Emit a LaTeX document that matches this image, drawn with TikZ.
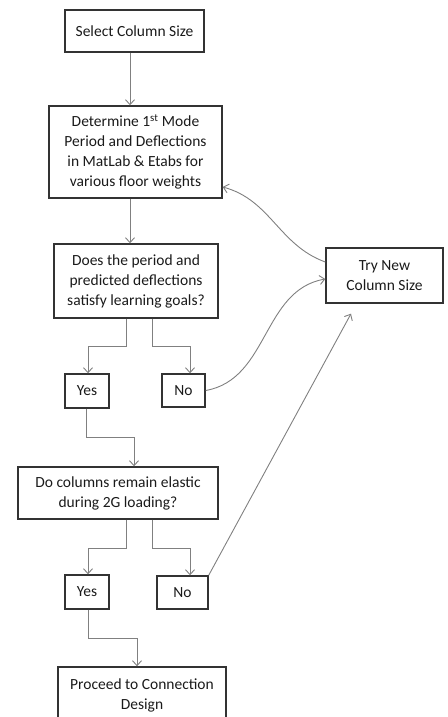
\documentclass[tikz,border=0pt]{standalone}
\usepackage{fontspec}
\setmainfont{Carlito}
\usetikzlibrary{arrows.meta,calc}
\definecolor{boxline}{HTML}{333333}
\definecolor{arrline}{HTML}{808080}
\definecolor{txt}{HTML}{1A1A1A}

\begin{document}
\begin{tikzpicture}[x=1pt,y=-1pt,
	font=\fontsize{15.5}{20}\selectfont,
	stepbox/.style={draw=boxline, line width=1.4pt, text=txt, align=center, inner sep=0pt},
	link/.style={draw=arrline, line width=0.9pt, -{Straight Barb[length=5pt,width=9pt]}}]
	\useasboundingbox (0,0) rectangle (447,717);
	\clip (0,0) rectangle (447,717);
	\node[stepbox, minimum width=139pt, minimum height=42pt] (sel) at (134.5,31) {Select Column Size};
	\node[stepbox, minimum width=173pt, minimum height=92pt] (det) at (135.5,152) {Determine 1\textsuperscript{st} Mode\\Period and Deflections\\in MatLab \& Etabs for\\various floor weights};
	\node[stepbox, minimum width=164pt, minimum height=74pt] (goal) at (136,281) {Does the period and\\predicted deflections\\satisfy learning goals?};
	\node[stepbox, minimum width=117pt, minimum height=55pt] (try) at (384.5,275.5) {Try New\\Column Size};
	\node[stepbox, minimum width=44pt, minimum height=34pt] (yesA) at (87,391) {Yes};
	\node[stepbox, minimum width=43pt, minimum height=33pt] (noA) at (183.5,390.5) {No};
	\node[stepbox, minimum width=200pt, minimum height=52pt] (elastic) at (118,493) {Do columns remain elastic\\during 2G loading?};
	\node[stepbox, minimum width=44pt, minimum height=34pt] (yesB) at (87,592) {Yes};
	\node[stepbox, minimum width=51pt, minimum height=33pt] (noB) at (182.5,592.5) {No};
	\node[stepbox, minimum width=168pt, minimum height=56pt] (conn) at (142,695) {Proceed to Connection\\Design};

	% main column
	\draw[link] ([xshift=-4.5pt]sel.south) -- ([xshift=-4.5pt]sel.south |- det.north);
	\draw[link] ([xshift=-5.5pt]det.south) -- ([xshift=-5.5pt]det.south |- goal.north);
	\draw[link] ([xshift=-10pt]goal.south) -- ++(0,28) -| ([xshift=1pt]yesA.north);
	\draw[link] ([xshift=16pt]goal.south) -- ++(0,28) -| ([xshift=6.5pt]noA.north);
	\draw[link] ([xshift=-1pt]yesA.south) -- ++(0,29) -| ([xshift=16pt]elastic.north);
	\draw[link] ([xshift=8pt]elastic.south) -- ++(0,29) -| ([xshift=1pt]yesB.north);
	\draw[link] ([xshift=34pt]elastic.south) -- ++(0,29) -| ([xshift=7.5pt]noB.north);
	\draw[link] ([xshift=1pt]yesB.south) -- ++(0,29) -| ([xshift=-5pt]conn.north);

	% back to new size
	\draw[link] (noA.east) to[out=10,in=190] ([yshift=-3.5pt]try.west);
	\draw[link] ([yshift=13.5pt]try.west) to[out=160,in=-15] ([yshift=-35pt]det.east);
	\draw[link] (noB.north east) -- ([xshift=-33.5pt,yshift=-10pt]try.south);
\end{tikzpicture}
\end{document}
